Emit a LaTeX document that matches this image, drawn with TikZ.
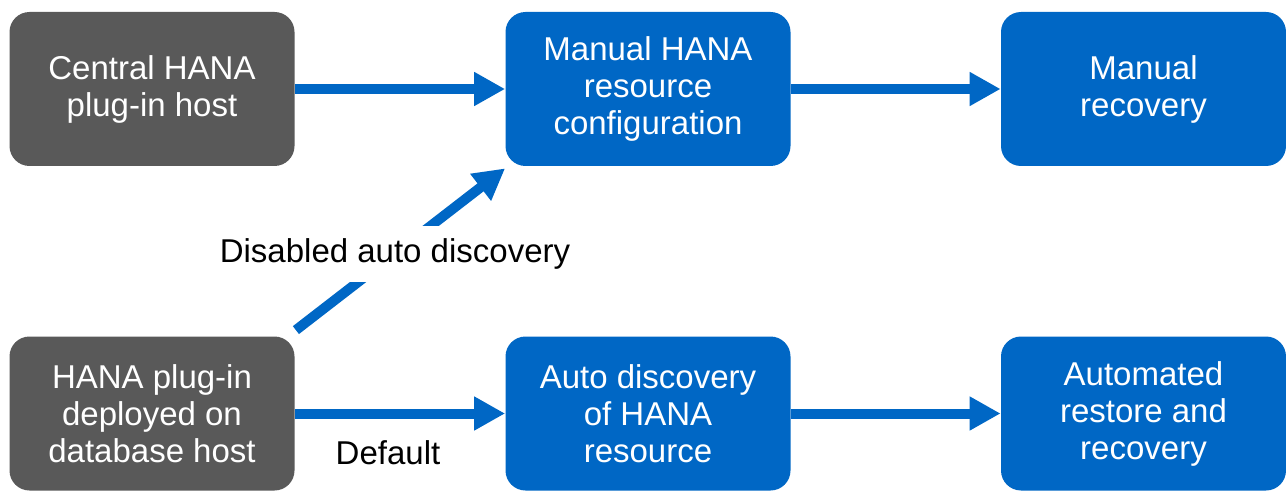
\documentclass[tikz,border=0pt]{standalone}
\usepackage{fontspec}
\setmainfont{Liberation Sans}
\usetikzlibrary{arrows.meta,calc}
\definecolor{boxgray}{HTML}{595959}
\definecolor{boxblue}{HTML}{0067C5}
\tikzset{
  box/.style={rounded corners=10pt, minimum width=142.5pt, minimum height=77pt,
    inner sep=0pt, align=center, text=white, font=\fontsize{16.5}{18.5}\selectfont},
  graybox/.style={box, fill=boxgray},
  bluebox/.style={box, fill=boxblue},
  flow/.style={draw=boxblue, line width=5pt,
    -{Triangle[length=15.5pt,width=16pt]}},
  lbl/.style={font=\fontsize{16.5}{18.5}\selectfont, text=black, inner sep=0pt}
}
\begin{document}
\begin{tikzpicture}[x=0.5pt,y=-0.5pt]
\useasboundingbox (0,0) rectangle (1286,492);
\node[graybox] (A) at (152,89) {Central HANA\\plug-in host};
\node[bluebox] (B) at (648,89) {Manual HANA\\resource\\configuration};
\node[bluebox] (C) at (1143.5,89) {Manual\\recovery};
\node[graybox] (D) at (152,413.5) {HANA plug-in\\deployed on\\database host};
\node[bluebox] (E) at (648,413.5) {Auto discovery\\of HANA\\resource};
\node[bluebox] (F) at (1143.5,413.5) {Automated\\restore and\\recovery};
\draw[flow] (A.east) -- (B.west);
\draw[flow] (B.east) -- (C.west);
\draw[flow] (D.east) -- (E.west);
\draw[flow] (E.east) -- (F.west);
\coordinate (ds) at ($(D.north east)+(1,-6)$);
\coordinate (de) at ($(B.south west)+(0,2)$);
\draw[flow] (ds) -- (de);
\node[lbl, fill=white, inner ysep=6.5pt] (dis) at (395,254) {Disabled auto discovery};
\node[lbl] (def) at (388,453) {Default};
\end{tikzpicture}
\end{document}
